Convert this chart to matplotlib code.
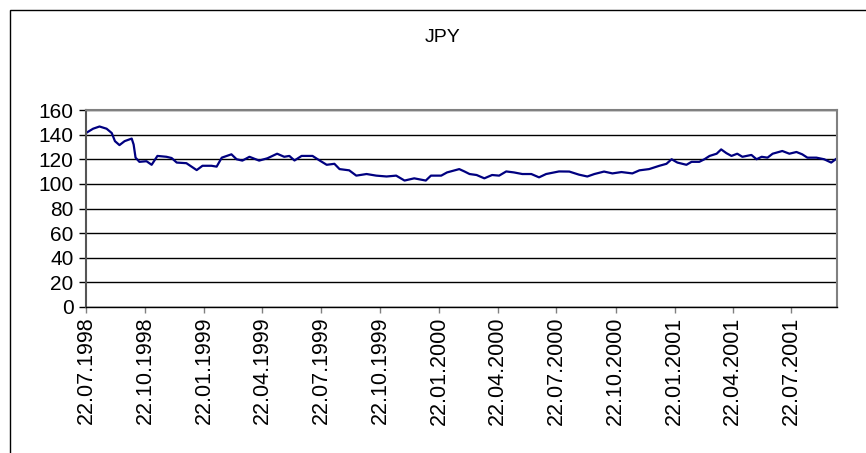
import matplotlib
matplotlib.use("Agg")
import matplotlib.pyplot as plt
import matplotlib.dates as mdates
import pandas as pd
from matplotlib.patches import Rectangle

# JPY exchange rate
dates = [
    "1998-07-22", "1998-08-02", "1998-08-12", "1998-08-23", "1998-08-31",
    "1998-09-05", "1998-09-12", "1998-09-20", "1998-10-01", "1998-10-04",
    "1998-10-07", "1998-10-13", "1998-10-24", "1998-11-01", "1998-11-10",
    "1998-11-24", "1998-12-02", "1998-12-10", "1998-12-25", "1999-01-10",
    "1999-01-19", "1999-02-02", "1999-02-10", "1999-02-18", "1999-03-05",
    "1999-03-13", "1999-03-22", "1999-04-02", "1999-04-17", "1999-04-30",
    "1999-05-15", "1999-05-26", "1999-06-03", "1999-06-11", "1999-06-22",
    "1999-07-09", "1999-07-20", "1999-07-31", "1999-08-12", "1999-08-20",
    "1999-09-04", "1999-09-15", "1999-10-01", "1999-10-16", "1999-11-01",
    "1999-11-16", "1999-11-29", "1999-12-14", "2000-01-01", "2000-01-09",
    "2000-01-25", "2000-02-03", "2000-02-22", "2000-03-01", "2000-03-09",
    "2000-03-20", "2000-04-01", "2000-04-13", "2000-04-24", "2000-05-05",
    "2000-05-17", "2000-05-30", "2000-06-13", "2000-06-25", "2000-07-06",
    "2000-07-26", "2000-08-11", "2000-08-26", "2000-09-08", "2000-09-19",
    "2000-10-04", "2000-10-17", "2000-10-31", "2000-11-17", "2000-11-28",
    "2000-12-13", "2000-12-29", "2001-01-09", "2001-01-17", "2001-01-26",
    "2001-02-09", "2001-02-17", "2001-03-01", "2001-03-09", "2001-03-17",
    "2001-03-28", "2001-04-04", "2001-04-12", "2001-04-20", "2001-04-29",
    "2001-05-07", "2001-05-21", "2001-05-29", "2001-06-06", "2001-06-15",
    "2001-06-23", "2001-07-08", "2001-07-19", "2001-07-30", "2001-08-08",
    "2001-08-16", "2001-08-30", "2001-09-11", "2001-09-22", "2001-10-01",
]
jpy = [
    141.3, 144.8, 146.6, 144.8, 141.3,
    134.7, 131.5, 134.7, 136.8, 132.0,
    121.3, 117.9, 118.4, 115.5, 122.7,
    122.0, 121.0, 117.3, 116.8, 111.2,
    114.7, 114.7, 114.0, 121.3, 124.0,
    120.0, 118.9, 122.0, 118.9, 120.8,
    124.5, 122.0, 122.7, 119.0, 122.7,
    122.7, 119.0, 115.5, 116.3, 112.0,
    111.0, 106.7, 108.0, 106.7, 106.0,
    106.7, 102.7, 104.5, 102.7, 106.7,
    106.7, 109.3, 112.0, 110.1, 108.0,
    107.2, 104.5, 107.2, 106.7, 110.1,
    109.3, 108.0, 108.0, 105.3, 108.0,
    110.1, 110.0, 107.5, 106.0, 108.0,
    110.0, 108.5, 109.6, 108.5, 111.0,
    112.0, 114.7, 116.3, 120.0, 117.3,
    115.5, 117.9, 117.9, 120.0, 122.7,
    124.5, 128.0, 125.0, 122.7, 124.5,
    122.0, 123.5, 120.0, 122.0, 121.3,
    124.5, 126.7, 124.5, 125.9, 124.0,
    121.3, 121.3, 120.0, 117.3, 120.8,
]
tick_labels = [
    "22.07.1998", "22.10.1998", "22.01.1999", "22.04.1999", "22.07.1999",
    "22.10.1999", "22.01.2000", "22.04.2000", "22.07.2000", "22.10.2000",
    "22.01.2001", "22.04.2001", "22.07.2001",
]
y_ticks = [0, 20, 40, 60, 80, 100, 120, 140, 160]

plt.rcParams['font.family'] = ['Liberation Sans', 'DejaVu Sans']

x = pd.to_datetime(dates)
tick_dates = pd.to_datetime(tick_labels, format="%d.%m.%Y")

fig = plt.figure(figsize=(8.66, 4.53), dpi=100)
ax = fig.add_axes([86 / 866, 146 / 453, 751 / 866, 197 / 453])

ax.plot(x, jpy, color='#000080', linewidth=1.6)

ax.set_ylim(0, 160)
ax.set_yticks(y_ticks)
ax.set_xlim(x[0], x[-1])
ax.set_xticks(tick_dates)
ax.xaxis.set_major_formatter(mdates.DateFormatter("%d.%m.%Y"))
ax.tick_params(axis='x', rotation=90, labelsize=15.5, length=4, width=1, color='#808080', pad=3)
ax.tick_params(axis='y', labelsize=15, length=5, width=1, pad=4)

ax.grid(axis='y', color='black', linewidth=1)
ax.set_axisbelow(True)
for side in ['top', 'right']:
    ax.spines[side].set_color('#808080')
    ax.spines[side].set_linewidth(1.5)
ax.spines['left'].set_color('#555555')
ax.spines['left'].set_linewidth(1.5)
ax.spines['bottom'].set_color('black')
ax.spines['bottom'].set_linewidth(1)

fig.text(443 / 866, 1 - 37 / 453, 'JPY', ha='center', va='center', fontsize=14)

# outer chart frame (runs off the bottom and right edges)
fig.add_artist(Rectangle((10 / 866, -0.1), 1.0, 1.1 - 10 / 453, transform=fig.transFigure,
                         fill=False, edgecolor='black', linewidth=1))

plt.savefig('out.png', dpi=100)
